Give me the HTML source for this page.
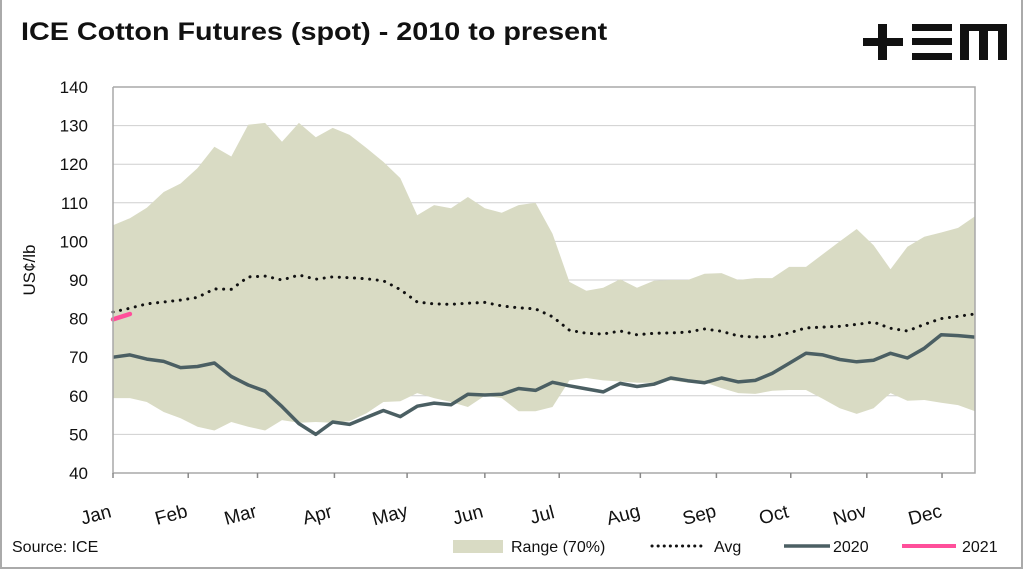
<!DOCTYPE html>
<html><head><meta charset="utf-8"><style>
html,body{margin:0;padding:0;background:#fff;}
body{width:1024px;height:570px;overflow:hidden;position:relative;font-family:"Liberation Sans",sans-serif;}
#frame{position:absolute;left:0;top:0;width:1019px;height:567px;border-left:2px solid #aaa;border-right:2px solid #aaa;border-bottom:2px solid #aaa;}
#title{position:absolute;left:21px;top:18px;font-size:25px;font-weight:bold;color:#111;transform:scaleX(1.15);transform-origin:0 0;white-space:nowrap;}
</style></head><body>
<div id="frame"></div>
<div id="title">ICE Cotton Futures (spot) - 2010 to present</div>
<svg id="chart" width="1024" height="570" style="position:absolute;left:0;top:0">
  <g fill="#111">
    <rect x="863" y="38" width="40" height="8"/><rect x="878" y="24" width="9" height="36"/>
    <rect x="912" y="24" width="40" height="7"/><rect x="912" y="38" width="40" height="7"/><rect x="912" y="53" width="40" height="7"/>
    <path d="M960 24 H1007 V60 H998 V31 H988 V60 H979 V31 H969 V60 H960 Z"/>
  </g>
  <g id="grid"></g><g id="plot"></g><g id="axes"></g>
  <text x="12" y="552" font-size="16" fill="#111">Source: ICE</text>
  <g font-size="16" fill="#111">
    <g><rect x="453" y="540" width="50" height="13" fill="#d9dbc4"/><text x="511" y="552">Range (70%)</text></g>
    <g><line x1="652" y1="546" x2="706" y2="546" stroke="#111" stroke-width="3" stroke-dasharray="0.1 6" stroke-linecap="round"/><text x="714" y="552">Avg</text></g>
    <g><line x1="784" y1="546" x2="830" y2="546" stroke="#4b5f63" stroke-width="3.5"/><text x="833" y="552">2020</text></g>
    <g><line x1="902" y1="546" x2="956" y2="546" stroke="#ff4f9a" stroke-width="4"/><text x="962" y="552">2021</text></g>
  </g>
</svg>
<script>
const upper=[104.2,106,108.7,112.8,115,119,124.5,122,130.2,130.7,125.8,130.7,127,129.4,127.6,124.2,120.6,116.4,106.8,109.4,108.6,111.5,108.6,107.4,109.4,110,102,89.5,87.2,88,90.2,88,89.8,90,90,91.6,91.8,90,90.5,90.5,93.4,93.4,96.7,100,103.2,99,92.8,98.6,101.2,102.3,103.5,106.5];
const lower=[59.4,59.4,58.4,55.8,54.2,52,51,53.2,52,51,53.7,53,53.2,53,53.4,55.5,58.4,58.6,60.7,59.4,58.4,57.1,60,59.4,56,56,57.1,64,64.6,64,63.7,63.4,63.4,64,63.4,63.5,62,60.7,60.5,61.3,61.5,61.5,59.2,56.8,55.3,56.8,60.7,58.7,58.9,58.2,57.6,56];
const avg=[81.7,82.7,83.8,84.3,84.8,85.5,87.7,87.6,90.8,91,90,91.3,90.2,90.8,90.6,90.3,89.8,87.5,84.3,83.8,83.7,84,84.2,83.3,82.8,82.5,80.5,77,76.2,76,76.8,75.8,76.2,76.3,76.5,77.3,76.7,75.5,75.2,75.4,76.3,77.6,77.8,78,78.5,79.1,77.5,76.8,78.5,80,80.6,81.2];
const y2020=[70,70.6,69.5,68.9,67.3,67.6,68.5,65,62.8,61.2,57.2,52.8,50,53.2,52.6,54.4,56.2,54.6,57.3,58.1,57.7,60.4,60.2,60.4,61.9,61.4,63.5,62.6,61.8,61,63.2,62.4,63,64.6,63.9,63.4,64.6,63.6,64,65.8,68.4,71,70.6,69.4,68.8,69.2,71,69.8,72.3,75.8,75.6,75.2];
const y2021=[79.8,81.2];
const yTicks=[40,50,60,70,80,90,100,110,120,130,140];
const months=["Jan","Feb","Mar","Apr","May","Jun","Jul","Aug","Sep","Oct","Nov","Dec"];
const monthWeek=[0,4.45,8.55,13.1,17.4,22,26.4,31.2,35.7,40.1,44.6,49.05];

const X0=113,X1=975,Y0=473,Y1=87,NW=51;
const xs=i=>X0+(X1-X0)*i/NW;
const ys=v=>Y0-(v-40)*(Y0-Y1)/100;
const NS="http://www.w3.org/2000/svg";
function mk(tag,attrs,parent){const e=document.createElementNS(NS,tag);for(const k in attrs)e.setAttribute(k,attrs[k]);parent.appendChild(e);return e;}
const grid=document.getElementById('grid'),plot=document.getElementById('plot'),axes=document.getElementById('axes');
yTicks.forEach(t=>{
  const g=mk('line',{x1:X0,x2:X1,y1:ys(t),y2:ys(t),stroke:'#cfcfcf','stroke-width':1},grid);
  
  
  const l=mk('text',{x:88,y:ys(t)+6,'text-anchor':'end','font-size':17,fill:'#111'},axes);
  l.textContent=t;
  
  
});
const pts=a=>a.map((v,i)=>xs(i).toFixed(1)+','+ys(v).toFixed(1));
const band=mk('polygon',{points:pts(upper).concat(pts(lower).reverse()).join(' '),fill:'#d9dbc4'},plot);


const av=mk('polyline',{points:pts(avg).join(' '),fill:'none',stroke:'#111','stroke-width':3,'stroke-dasharray':'0.1 7.5','stroke-linecap':'round'},plot);


const l20=mk('polyline',{points:pts(y2020).join(' '),fill:'none',stroke:'#4b5f63','stroke-width':3.5,'stroke-linejoin':'round'},plot);


const l21=mk('polyline',{points:pts(y2021).join(' '),fill:'none',stroke:'#ff4f9a','stroke-width':4.5,'stroke-linecap':'round'},plot);


const ax=mk('path',{d:`M${X0} ${Y1} V${Y0} H${X1} V${Y1} H${X0}`,fill:'none',stroke:'#a8a8a8','stroke-width':1.5},axes);


months.forEach((m,i)=>{
  const x=xs(monthWeek[i]);
  const tk=mk('line',{x1:x,x2:x,y1:Y0,y2:Y0+5,stroke:'#888','stroke-width':1.5},axes);
  
  
  const t=mk('text',{x:x-17,y:521,'text-anchor':'middle','font-size':19,fill:'#111',transform:`rotate(-15 ${x-17} 515)`},axes);
  t.textContent=m;
  
  
});
const yt=mk('text',{x:0,y:0,'text-anchor':'middle','font-size':17,fill:'#111',transform:'translate(35 270) rotate(-90)'},axes);
yt.textContent='US¢/lb';


</script>
</body></html>
